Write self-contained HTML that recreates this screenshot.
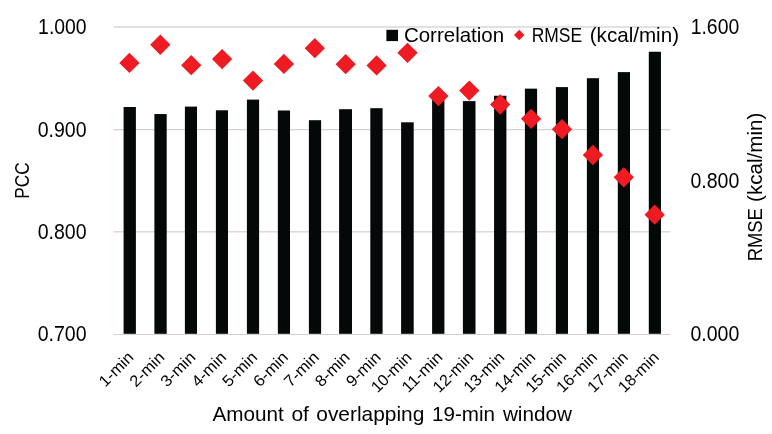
<!DOCTYPE html>
<html><head><meta charset="utf-8"><title>Chart</title>
<style>
html,body{margin:0;padding:0;background:#fff;}
svg{display:block;}
text{font-family:"Liberation Sans",sans-serif;fill:#000;}
</style></head><body>
<svg width="772" height="434" viewBox="0 0 772 434">
<rect width="772" height="434" fill="#fff"/>
<rect x="113.5" y="26.05" width="556.6" height="1.8" fill="#dfdfdf"/>
<rect x="113.5" y="129" width="556.6" height="1.25" fill="#d2d2d2"/>
<rect x="113.5" y="231.2" width="556.6" height="1.25" fill="#d2d2d2"/>
<rect x="113.5" y="334" width="556.6" height="1" fill="#d0d0d0"/>
<rect x="123.60" y="107.00" width="12.30" height="226.80" fill="#050808"/>
<rect x="154.40" y="114.05" width="12.30" height="219.75" fill="#050808"/>
<rect x="184.90" y="106.60" width="12.10" height="227.20" fill="#050808"/>
<rect x="215.90" y="110.30" width="12.10" height="223.50" fill="#050808"/>
<rect x="246.90" y="99.60" width="12.20" height="234.20" fill="#050808"/>
<rect x="277.85" y="110.50" width="12.15" height="223.30" fill="#050808"/>
<rect x="308.90" y="120.20" width="12.20" height="213.60" fill="#050808"/>
<rect x="339.10" y="109.20" width="12.90" height="224.60" fill="#050808"/>
<rect x="370.30" y="108.20" width="12.30" height="225.60" fill="#050808"/>
<rect x="401.10" y="122.30" width="12.60" height="211.50" fill="#050808"/>
<rect x="432.10" y="97.00" width="12.30" height="236.80" fill="#050808"/>
<rect x="462.90" y="101.10" width="12.60" height="232.70" fill="#050808"/>
<rect x="494.07" y="95.75" width="12.33" height="238.05" fill="#050808"/>
<rect x="524.90" y="88.65" width="12.20" height="245.15" fill="#050808"/>
<rect x="555.85" y="87.10" width="12.15" height="246.70" fill="#050808"/>
<rect x="586.87" y="78.20" width="12.17" height="255.60" fill="#050808"/>
<rect x="617.80" y="72.10" width="12.20" height="261.70" fill="#050808"/>
<rect x="648.80" y="51.75" width="12.16" height="282.05" fill="#050808"/>
<path d="M129.42 52.80L139.57 62.95L129.42 73.10L119.27 62.95Z" fill="#ee1b23"/>
<path d="M160.32 34.60L170.47 44.75L160.32 54.90L150.17 44.75Z" fill="#ee1b23"/>
<path d="M191.22 55.05L201.37 65.20L191.22 75.35L181.07 65.20Z" fill="#ee1b23"/>
<path d="M222.11 48.95L232.26 59.10L222.11 69.25L211.96 59.10Z" fill="#ee1b23"/>
<path d="M253.01 70.45L263.16 80.60L253.01 90.75L242.86 80.60Z" fill="#ee1b23"/>
<path d="M283.91 53.75L294.06 63.90L283.91 74.05L273.76 63.90Z" fill="#ee1b23"/>
<path d="M314.81 38.05L324.96 48.20L314.81 58.35L304.66 48.20Z" fill="#ee1b23"/>
<path d="M345.70 54.05L355.85 64.20L345.70 74.35L335.55 64.20Z" fill="#ee1b23"/>
<path d="M376.60 55.25L386.75 65.40L376.60 75.55L366.45 65.40Z" fill="#ee1b23"/>
<path d="M407.50 42.65L417.65 52.80L407.50 62.95L397.35 52.80Z" fill="#ee1b23"/>
<path d="M438.40 85.90L448.55 96.05L438.40 106.20L428.25 96.05Z" fill="#ee1b23"/>
<path d="M469.29 80.40L479.44 90.55L469.29 100.70L459.14 90.55Z" fill="#ee1b23"/>
<path d="M500.19 94.35L510.34 104.50L500.19 114.65L490.04 104.50Z" fill="#ee1b23"/>
<path d="M531.09 108.70L541.24 118.85L531.09 129.00L520.94 118.85Z" fill="#ee1b23"/>
<path d="M561.99 119.05L572.14 129.20L561.99 139.35L551.84 129.20Z" fill="#ee1b23"/>
<path d="M592.88 144.85L603.03 155.00L592.88 165.15L582.73 155.00Z" fill="#ee1b23"/>
<path d="M623.78 167.15L633.93 177.30L623.78 187.45L613.63 177.30Z" fill="#ee1b23"/>
<path d="M654.68 204.50L664.83 214.65L654.68 224.80L644.53 214.65Z" fill="#ee1b23"/>
<text transform="translate(38.10 34.10)" font-size="22" textLength="48.51" lengthAdjust="spacingAndGlyphs">1.000</text>
<text transform="translate(37.65 136.80)" font-size="22" textLength="48.86" lengthAdjust="spacingAndGlyphs">0.900</text>
<text transform="translate(37.65 239.00)" font-size="22" textLength="48.86" lengthAdjust="spacingAndGlyphs">0.800</text>
<text transform="translate(37.65 340.95)" font-size="22" textLength="48.86" lengthAdjust="spacingAndGlyphs">0.700</text>
<text transform="translate(690.70 33.80)" font-size="22" textLength="48.51" lengthAdjust="spacingAndGlyphs">1.600</text>
<text transform="translate(690.45 187.90)" font-size="22" textLength="48.86" lengthAdjust="spacingAndGlyphs">0.800</text>
<text transform="translate(690.45 341.30)" font-size="22" textLength="48.86" lengthAdjust="spacingAndGlyphs">0.000</text>
<text transform="translate(29.00 198.70) rotate(-90)" font-size="21" textLength="36.38" lengthAdjust="spacingAndGlyphs">PCC</text>
<text transform="translate(761.60 261.30) rotate(-90)" font-size="20.6" textLength="53.21" lengthAdjust="spacingAndGlyphs">RMSE</text>
<text transform="translate(761.60 201.95) rotate(-90)" font-size="20.6" textLength="89.25" lengthAdjust="spacingAndGlyphs">(kcal/min)</text>
<text transform="translate(212.50 420.80)" font-size="20.7" textLength="71.30" lengthAdjust="spacingAndGlyphs">Amount</text>
<text transform="translate(291.40 420.80)" font-size="20.7" textLength="17.53" lengthAdjust="spacingAndGlyphs">of</text>
<text transform="translate(316.30 420.80)" font-size="20.7" textLength="107.99" lengthAdjust="spacingAndGlyphs">overlapping</text>
<text transform="translate(432.00 420.80)" font-size="20.7" textLength="62.97" lengthAdjust="spacingAndGlyphs">19-min</text>
<text transform="translate(502.90 420.80)" font-size="20.7" textLength="69.00" lengthAdjust="spacingAndGlyphs">window</text>
<text transform="translate(134.62 358.3) rotate(-45)" class="t" text-anchor="end" font-size="16" textLength="41.62" lengthAdjust="spacingAndGlyphs">1-min</text>
<text transform="translate(165.52 358.3) rotate(-45)" class="t" text-anchor="end" font-size="16" textLength="41.62" lengthAdjust="spacingAndGlyphs">2-min</text>
<text transform="translate(196.42 358.3) rotate(-45)" class="t" text-anchor="end" font-size="16" textLength="41.62" lengthAdjust="spacingAndGlyphs">3-min</text>
<text transform="translate(227.31 358.3) rotate(-45)" class="t" text-anchor="end" font-size="16" textLength="41.62" lengthAdjust="spacingAndGlyphs">4-min</text>
<text transform="translate(258.21 358.3) rotate(-45)" class="t" text-anchor="end" font-size="16" textLength="41.62" lengthAdjust="spacingAndGlyphs">5-min</text>
<text transform="translate(289.11 358.3) rotate(-45)" class="t" text-anchor="end" font-size="16" textLength="41.62" lengthAdjust="spacingAndGlyphs">6-min</text>
<text transform="translate(320.01 358.3) rotate(-45)" class="t" text-anchor="end" font-size="16" textLength="41.62" lengthAdjust="spacingAndGlyphs">7-min</text>
<text transform="translate(350.90 358.3) rotate(-45)" class="t" text-anchor="end" font-size="16" textLength="41.62" lengthAdjust="spacingAndGlyphs">8-min</text>
<text transform="translate(381.80 358.3) rotate(-45)" class="t" text-anchor="end" font-size="16" textLength="41.62" lengthAdjust="spacingAndGlyphs">9-min</text>
<text transform="translate(412.70 358.3) rotate(-45)" class="t" text-anchor="end" font-size="16" textLength="49.89" lengthAdjust="spacingAndGlyphs">10-min</text>
<text transform="translate(443.60 358.3) rotate(-45)" class="t" text-anchor="end" font-size="16" textLength="49.89" lengthAdjust="spacingAndGlyphs">11-min</text>
<text transform="translate(474.49 358.3) rotate(-45)" class="t" text-anchor="end" font-size="16" textLength="49.89" lengthAdjust="spacingAndGlyphs">12-min</text>
<text transform="translate(505.39 358.3) rotate(-45)" class="t" text-anchor="end" font-size="16" textLength="49.89" lengthAdjust="spacingAndGlyphs">13-min</text>
<text transform="translate(536.29 358.3) rotate(-45)" class="t" text-anchor="end" font-size="16" textLength="49.89" lengthAdjust="spacingAndGlyphs">14-min</text>
<text transform="translate(567.19 358.3) rotate(-45)" class="t" text-anchor="end" font-size="16" textLength="49.89" lengthAdjust="spacingAndGlyphs">15-min</text>
<text transform="translate(598.08 358.3) rotate(-45)" class="t" text-anchor="end" font-size="16" textLength="49.89" lengthAdjust="spacingAndGlyphs">16-min</text>
<text transform="translate(628.98 358.3) rotate(-45)" class="t" text-anchor="end" font-size="16" textLength="49.89" lengthAdjust="spacingAndGlyphs">17-min</text>
<text transform="translate(659.88 358.3) rotate(-45)" class="t" text-anchor="end" font-size="16" textLength="49.89" lengthAdjust="spacingAndGlyphs">18-min</text>
<rect x="386.4" y="29.8" width="11.6" height="11.3" fill="#050808"/>
<path d="M519.2 29.8L524.4000000000001 35.0L519.2 40.2L514.0 35.0Z" fill="#ee1b23"/>
<text transform="translate(403.90 41.80)" font-size="20.6" textLength="100.22" lengthAdjust="spacingAndGlyphs">Correlation</text>
<text transform="translate(531.70 41.70)" font-size="20.6" textLength="50.33" lengthAdjust="spacingAndGlyphs">RMSE</text>
<text transform="translate(589.75 41.70)" font-size="20.6" textLength="89.25" lengthAdjust="spacingAndGlyphs">(kcal/min)</text>
</svg></body></html>
